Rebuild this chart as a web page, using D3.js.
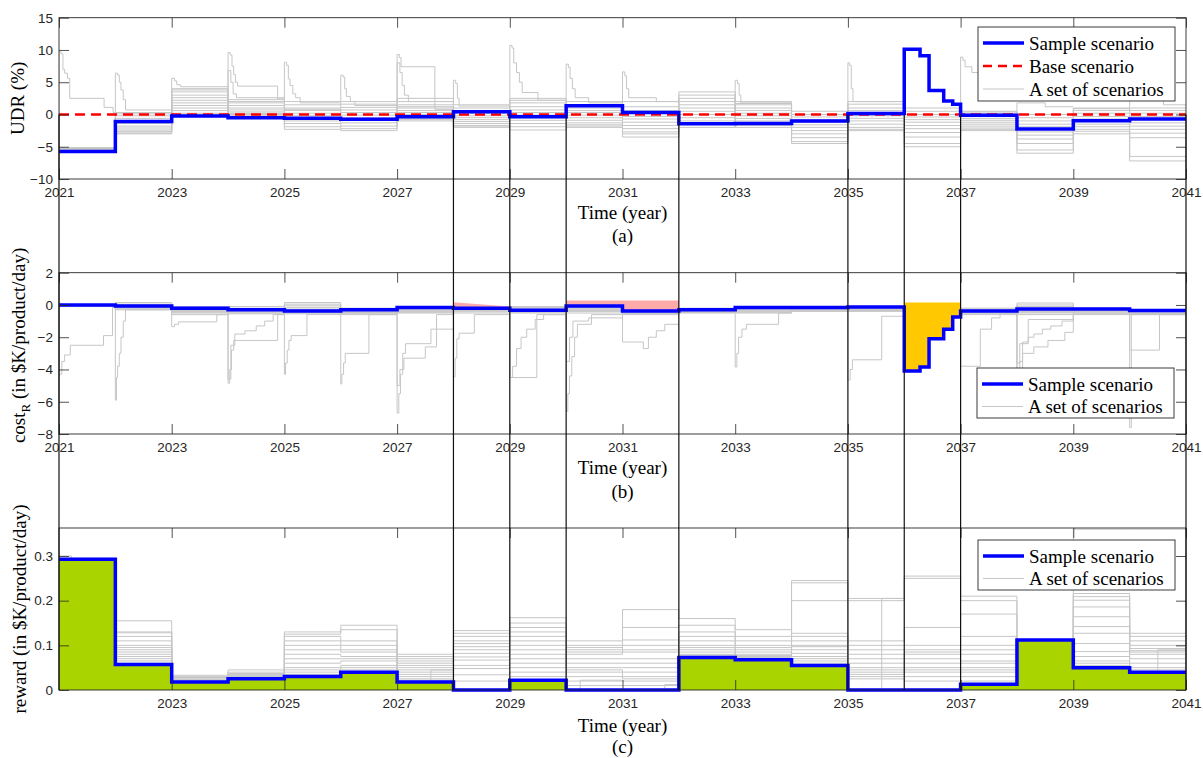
<!DOCTYPE html>
<html>
<head>
<meta charset="utf-8">
<title>UDR, cost and reward scenarios</title>
<script src="https://cdn.jsdelivr.net/npm/d3@7"></script>
<style>
  body { margin: 0; background: #fff; }
</style>
</head>
<body>
<script>
// ---- Data ----
const yearStarts = [2021, 2022, 2023, 2024, 2025, 2026, 2027, 2028, 2029, 2030,
                    2031, 2032, 2033, 2034, 2035, 2036, 2037, 2038, 2039, 2040];
const yearTicks = [2021, 2023, 2025, 2027, 2029, 2031, 2033, 2035, 2037, 2039, 2041];
const rewardYearTicks = [2023, 2025, 2027, 2029, 2031, 2033, 2035, 2037, 2039, 2041];
const udrTicks = [-10, -5, 0, 5, 10, 15];
const costTicks = [-8, -6, -4, -2, 0, 2];
const rewardTicks = [0, 0.1, 0.2, 0.3];
const markerYears = [2021, 2028, 2029, 2030, 2032, 2035, 2036, 2037, 2041];

// (a) UDR (%) - sample scenario as breakpoints (step after)
const udrSampleT = [2021, 2022, 2023, 2024, 2025, 2026, 2027, 2028, 2029, 2030, 2031, 2032, 2033,
                    2034, 2035, 2036, 2036.28, 2036.44, 2036.7, 2036.86, 2037, 2038, 2039, 2040, 2041];
const udrSampleV = [-5.75, -1.1, -0.25, -0.5, -0.6, -0.75, -0.35, 0.42, -0.35, 1.35, 0.32, -1.43, -1.4,
                    -1.0, 0.17, 10.1, 9.1, 3.7, 2.1, 1.6, -0.1, -2.26, -0.97, -0.7, -0.7];
const udrBase = 0;
// set of scenarios, one value per year
const udrSet = [
  [-5.2, 0.3, 4.0, 2.3, 2.0, 2.0, 2.5, 1.5, 2.5, 2.0, 2.0, 3.5, 2.0, 0.5, 2.0, 1.0, 0.5, 0.0, 1.0, 1.0],
  [-5.2, -0.2, 3.5, 1.8, 1.5, 1.6, 2.0, 1.0, 1.8, 1.5, 1.2, 3.0, 1.5, 0.0, 1.6, 0.5, 0.2, -0.5, 0.6, 0.6],
  [-5.2, -0.6, 3.0, 1.4, 1.0, 1.1, 1.5, 0.6, 1.2, 1.0, 0.6, 2.5, 1.0, -0.4, 1.0, 0.0, -0.3, -1.0, 0.2, 0.2],
  [-5.3, -1.4, 2.6, 1.0, 0.6, 0.7, 1.0, 0.2, 0.7, 0.6, 0.2, 2.0, 0.6, -0.8, 0.6, -0.4, -0.6, -1.5, -0.3, -0.3],
  [-5.3, -1.8, 2.2, 0.7, 0.2, 0.3, 0.6, -0.2, 0.3, 0.3, -0.3, 1.5, 0.2, -1.2, 0.2, -0.8, -0.9, -1.9, -0.7, -0.8],
  [-5.4, -2.1, 1.8, 0.4, -0.2, -0.1, 0.3, -0.5, -0.1, -0.1, -0.7, 1.0, -0.2, -1.6, -0.2, -1.2, -1.2, -2.3, -1.1, -1.3],
  [-5.4, -2.4, 1.4, 0.2, -0.6, -0.5, 0.0, -0.8, -0.5, -0.5, -1.2, 0.5, -0.6, -2.0, -0.6, -1.7, -1.5, -2.7, -1.5, -1.8],
  [-5.5, -2.7, 1.0, 0.0, -1.0, -0.9, -0.3, -1.1, -0.9, -0.9, -1.7, 0.0, -1.0, -2.5, -1.0, -2.2, -1.8, -3.2, -1.9, -2.3],
  [-5.5, -3.0, 0.6, -0.2, -1.4, -1.3, -0.6, -1.4, -1.4, -1.3, -2.2, -0.5, -1.4, -3.0, -1.5, -2.8, -2.1, -3.8, -2.3, -2.9],
  [-5.6, -2.9, 0.2, -0.3, -1.9, -1.8, -0.8, -1.7, -1.9, -1.6, -2.7, -1.0, -1.7, -3.6, -2.0, -3.5, -2.3, -4.5, -2.6, -3.6],
  [-5.6, -2.6, 0.0, 0.1, -2.3, -2.2, -1.0, -2.0, -2.4, -2.0, -3.5, -1.5, -2.0, -4.5, -2.5, -5.0, -2.5, -6.0, -3.0, -7.2],
  [-5.2, 0.1, 3.8, 2.0, 0.8, -2.5, 1.2, -1.8, 2.2, -1.8, -3.0, -2.0, 1.7, -4.2, -2.3, -4.5, 0.4, -5.5, 0.9, -6.5]
];
// short-lived UDR bursts inside the set of scenarios: [time, value] breakpoints
const udrBursts = [
  [[2021, -5.2], [2021, 9.7], [2021.04, 9.4], [2021.07, 7.0], [2021.1, 6.4], [2021.15, 5.6], [2021.19, 2.5], [2021.8, 1.1], [2021.96, 0.3], [2022, 0.3]],
  [[2022, 0.3], [2022, 6.4], [2022.04, 6.1], [2022.07, 5.0], [2022.1, 3.8], [2022.14, 2.3], [2022.18, 0.7], [2023, 0.7]],
  [[2023, 0.5], [2023, 5.6], [2023.05, 5.2], [2023.09, 4.6], [2023.16, 4.3], [2024, 4.3]],
  [[2024, 0.5], [2024, 9.6], [2024.04, 9.2], [2024.07, 7.5], [2024.1, 6.2], [2024.13, 5.0], [2024.17, 4.4], [2024.88, 2.4], [2025, 2.4]],
  [[2024, 0.5], [2024, 6.8], [2024.05, 5.0], [2024.09, 3.2], [2024.15, 2.6], [2025, 2.6]],
  [[2025, 0.5], [2025, 8.1], [2025.04, 7.6], [2025.07, 5.5], [2025.1, 4.5], [2025.15, 3.2], [2025.2, 2.6], [2025.28, 1.8], [2026, 1.8]],
  [[2026, 0.5], [2026, 6.1], [2026.04, 5.8], [2026.07, 4.0], [2026.1, 2.8], [2026.17, 2.0], [2026.25, 1.4], [2027, 1.4]],
  [[2027, 0.5], [2027, 9.3], [2027.04, 8.8], [2027.07, 7.4], [2027.67, 0.8], [2028, 0.8]],
  [[2027, 0.5], [2027, 8.0], [2027.05, 6.5], [2027.09, 4.5], [2027.13, 3.0], [2027.2, 2.0], [2028, 2.0]],
  [[2028, 0.5], [2028, 5.3], [2028.04, 4.8], [2028.07, 2.5], [2028.1, 1.3], [2029, 1.3]],
  [[2029, 0.5], [2029, 10.7], [2029.04, 10.3], [2029.07, 8.0], [2029.12, 6.5], [2029.17, 5.0], [2029.22, 3.4], [2029.5, 2.2], [2030, 2.2]],
  [[2030, 0.5], [2030, 7.8], [2030.04, 7.3], [2030.07, 5.6], [2030.11, 4.0], [2030.16, 2.6], [2030.4, 1.8], [2031, 1.8]],
  [[2031, 0.5], [2031, 6.6], [2031.04, 6.0], [2031.07, 4.0], [2031.11, 2.6], [2031.6, 2.0], [2032, 2.0]],
  [[2033, 0.5], [2033, 5.3], [2033.04, 4.8], [2033.07, 3.0], [2033.1, 1.8], [2034, 1.8]],
  [[2035, 0.5], [2035, 8.0], [2035.03, 7.6], [2035.06, 4.0], [2035.09, 2.0], [2036, 2.0]],
  [[2037, 0.5], [2037, 8.9], [2037.04, 8.4], [2037.08, 7.4], [2037.2, 6.5], [2038, 6.5]],
  [[2038, 0.3], [2038, 1.8], [2038.5, 1.2], [2039, 1.2]],
  [[2040, 0.5], [2040, 3.0], [2040.05, 2.2], [2040.6, 1.5], [2041, 1.5]]
];

// (b) cost_R (in $K/product/day)
const costSampleT = [2021, 2022, 2023, 2024, 2025, 2026, 2027, 2028, 2029, 2030, 2031, 2032, 2033,
                     2035, 2036, 2036.28, 2036.44, 2036.7, 2036.86, 2037, 2038, 2040, 2041];
const costSampleV = [0.0, -0.06, -0.2, -0.3, -0.37, -0.3, -0.16, -0.2, -0.33, -0.06, -0.37, -0.29, -0.16,
                     -0.12, -4.1, -3.85, -2.1, -1.5, -0.75, -0.37, -0.25, -0.35, -0.35];
const costSet = [
  [0.0, 0.15, -0.1, -0.1, 0.15, -0.2, -0.1, -0.1, -0.1, 0.0, -0.2, -0.2, -0.1, -0.1, -0.1, -0.2, -0.2, 0.12, -0.2, -0.3],
  [0.0, 0.05, -0.2, -0.2, 0.05, -0.25, -0.15, -0.15, -0.15, -0.08, -0.25, -0.25, -0.15, -0.15, -0.15, -0.25, -0.25, 0.0, -0.25, -0.35],
  [-0.02, -0.02, -0.25, -0.25, -0.05, -0.3, -0.2, -0.2, -0.2, -0.15, -0.3, -0.3, -0.2, -0.2, -0.2, -0.3, -0.3, -0.1, -0.3, -0.4],
  [-0.03, -0.08, -0.3, -0.3, -0.15, -0.35, -0.25, -0.25, -0.25, -0.2, -0.35, -0.33, -0.25, -0.23, -0.23, -0.35, -0.35, -0.2, -0.35, -0.42],
  [-0.05, -0.12, -0.35, -0.35, -0.25, -0.4, -0.3, -0.3, -0.3, -0.25, -0.4, -0.37, -0.3, -0.27, -0.27, -0.4, -0.4, -0.3, -0.4, -0.45],
  [-0.06, -0.16, -0.4, -0.4, -0.3, -0.43, -0.33, -0.33, -0.33, -0.3, -0.45, -0.4, -0.33, -0.3, -0.3, -0.45, -0.45, -0.35, -0.45, -0.5],
  [-0.07, -0.2, -0.45, -0.45, -0.35, -0.47, -0.37, -0.37, -0.37, -0.35, -0.5, -0.43, -0.37, -0.33, -0.33, -0.5, -0.5, -0.4, -0.5, -0.53],
  [-0.08, -0.24, -0.5, -0.5, -0.45, -0.52, -0.42, -0.42, -0.42, -0.4, -0.55, -0.47, -0.42, -0.36, -0.36, -0.55, -0.55, -0.5, -0.55, -0.56],
  [-0.1, -0.3, -0.6, -0.55, -0.55, -0.6, -0.5, -0.5, -0.5, -0.5, -0.6, -0.5, -0.5, -0.4, -0.4, -0.6, -0.6, -0.6, -0.6, -0.6],
  [-0.04, -0.1, -0.25, -0.22, -0.5, -0.28, -0.45, -0.12, -0.45, -0.12, -0.52, -0.22, -0.45, -0.12, -0.35, -0.5, -0.3, -0.45, -0.28, -0.58]
];
const costBursts = [
  [[2021, 0], [2021, -4.3], [2021.05, -3.5], [2021.1, -3.1], [2021.2, -2.5], [2021.79, -1.9], [2021.95, -0.1], [2022, -0.1]],
  [[2022, 0], [2022, -5.9], [2022.02, -4.5], [2022.04, -3.8], [2022.07, -3.0], [2022.1, -2.0], [2022.14, -1.0], [2022.18, -0.3], [2023, -0.3]],
  [[2023, -0.3], [2023, -1.35], [2023.05, -1.2], [2023.12, -1.05], [2023.8, -0.6], [2024, -0.6]],
  [[2024, -0.3], [2024, -4.85], [2024.03, -4.0], [2024.06, -2.8], [2024.1, -2.2], [2024.88, -0.6], [2025, -0.6]],
  [[2024, -0.3], [2024, -4.6], [2024.05, -2.5], [2024.12, -1.8], [2024.3, -1.6], [2024.5, -1.3], [2024.65, -1.0], [2024.8, -0.6], [2025, -0.6]],
  [[2025, -0.3], [2025, -4.3], [2025.02, -3.6], [2025.05, -2.8], [2025.08, -2.2], [2025.12, -1.9], [2025.4, -0.6], [2026, -0.6]],
  [[2026, -0.3], [2026, -4.9], [2026.02, -4.3], [2026.05, -3.6], [2026.08, -3.0], [2026.5, -0.6], [2027, -0.6]],
  [[2027, -0.3], [2027, -6.7], [2027.03, -5.5], [2027.06, -4.3], [2027.1, -3.0], [2027.15, -2.4], [2027.6, -1.5], [2028, -1.5]],
  [[2027, -0.3], [2027, -5.0], [2027.05, -4.0], [2027.12, -3.3], [2027.5, -2.6], [2027.7, -0.6], [2028, -0.6]],
  [[2028, -0.3], [2028, -4.45], [2028.03, -3.3], [2028.06, -2.1], [2028.1, -1.75], [2028.37, -0.6], [2029, -0.6]],
  [[2029, -0.3], [2029, -4.5], [2029.05, -3.8], [2029.12, -2.7], [2029.2, -2.0], [2029.3, -1.5], [2029.45, -0.9], [2029.6, -0.6], [2030, -0.6]],
  [[2029, -0.3], [2029, -4.5], [2029.48, -0.6], [2030, -0.6]],
  [[2030, -0.3], [2030, -6.6], [2030.03, -5.5], [2030.06, -4.4], [2030.1, -3.2], [2030.15, -2.0], [2030.2, -1.2], [2030.45, -0.6], [2031, -0.6]],
  [[2030, -0.3], [2030, -3.5], [2030.06, -2.0], [2030.12, -1.0], [2030.4, -0.8], [2031, -0.8]],
  [[2031, -0.3], [2031, -2.3], [2031.37, -2.7], [2031.46, -2.0], [2031.6, -1.6], [2031.75, -1.2], [2032, -1.2]],
  [[2033, -0.3], [2033, -3.85], [2033.03, -3.0], [2033.06, -2.0], [2033.12, -1.5], [2033.2, -1.2], [2033.77, -0.5], [2034, -0.5]],
  [[2035, -0.3], [2035, -4.65], [2035.04, -4.0], [2035.08, -3.4], [2035.6, -0.7], [2036, -0.7]],
  [[2037, -0.3], [2037, -3.8], [2037.35, -1.5], [2037.55, -0.8], [2037.7, -0.5], [2038, -0.5]],
  [[2038, -0.3], [2038, -4.2], [2038.05, -3.5], [2038.1, -2.3], [2038.2, -2.0], [2038.3, -1.8], [2038.45, -1.5], [2038.6, -1.3], [2038.8, -1.0], [2039, -0.6]],
  [[2038, -0.3], [2038, -4.0], [2038.1, -3.0], [2038.3, -2.6], [2038.55, -2.2], [2038.85, -1.7], [2039, -0.6]],
  [[2038, -0.3], [2038, -3.6], [2038.05, -2.4], [2038.2, -0.9], [2039, -0.6]],
  [[2040, -0.3], [2040, -7.6], [2040.03, -0.6], [2041, -0.6]],
  [[2040, -0.3], [2040, -2.8], [2040.53, -0.6], [2041, -0.6]]
];
// cost windows highlighted: [from, to, cap at start, cap at end]
const costPenaltyWindows = [[2028, 2029, 0.17, -0.1], [2030, 2032, 0.27, 0.27]];
const costShockWindows = [[2036, 2037, 0.15, 0.15]];

// (c) reward (in $K/product/day)
const rewardSampleT = [2021, 2022, 2023, 2024, 2025, 2026, 2027, 2028, 2029, 2030, 2032, 2033, 2034,
                       2035, 2037, 2038, 2039, 2040, 2041];
const rewardSampleV = [0.293, 0.057, 0.018, 0.025, 0.03, 0.04, 0.018, 0, 0.022, 0, 0.073, 0.068, 0.055,
                       0, 0.013, 0.112, 0.05, 0.04, 0.04];
const rewardSet = [
  [0.295, 0.155, 0.033, 0.045, 0.13, 0.145, 0.08, 0.133, 0.162, 0.11, 0.18, 0.16, 0.135, 0.245, 0.205, 0.255, 0.21, 0.11, 0.36, 0.36],
  [0.293, 0.13, 0.03, 0.04, 0.125, 0.135, 0.075, 0.127, 0.15, 0.1, 0.14, 0.145, 0.12, 0.24, 0.2, 0.25, 0.2, 0.105, 0.216, 0.127],
  [0.292, 0.128, 0.028, 0.037, 0.12, 0.11, 0.07, 0.12, 0.14, 0.095, 0.112, 0.13, 0.11, 0.2, 0.11, 0.14, 0.17, 0.1, 0.209, 0.12],
  [0.291, 0.12, 0.025, 0.035, 0.11, 0.1, 0.065, 0.11, 0.13, 0.09, 0.1, 0.12, 0.1, 0.127, 0.1, 0.1, 0.12, 0.095, 0.201, 0.11],
  [0.29, 0.11, 0.024, 0.033, 0.1, 0.09, 0.06, 0.104, 0.12, 0.085, 0.09, 0.11, 0.095, 0.12, 0.09, 0.09, 0.1, 0.09, 0.186, 0.1],
  [0.29, 0.1, 0.022, 0.031, 0.09, 0.085, 0.055, 0.097, 0.11, 0.08, 0.085, 0.1, 0.09, 0.11, 0.08, 0.085, 0.09, 0.085, 0.164, 0.093],
  [0.29, 0.095, 0.021, 0.03, 0.08, 0.075, 0.05, 0.09, 0.1, 0.07, 0.07, 0.095, 0.085, 0.1, 0.07, 0.08, 0.08, 0.08, 0.142, 0.088],
  [0.289, 0.09, 0.02, 0.029, 0.07, 0.07, 0.045, 0.082, 0.09, 0.06, 0.06, 0.09, 0.08, 0.097, 0.06, 0.07, 0.065, 0.075, 0.127, 0.085],
  [0.289, 0.085, 0.02, 0.028, 0.06, 0.065, 0.04, 0.074, 0.08, 0.05, 0.05, 0.085, 0.077, 0.09, 0.05, 0.06, 0.06, 0.07, 0.104, 0.08],
  [0.288, 0.08, 0.019, 0.027, 0.05, 0.055, 0.035, 0.067, 0.07, 0.045, 0.04, 0.08, 0.075, 0.082, 0.045, 0.05, 0.05, 0.065, 0.086, 0.07],
  [0.288, 0.075, 0.019, 0.026, 0.045, 0.05, 0.03, 0.055, 0.06, 0.04, 0.03, 0.078, 0.073, 0.075, 0.04, 0.045, 0.045, 0.06, 0.075, 0.06],
  [0.287, 0.07, 0.018, 0.025, 0.04, 0.045, 0.025, 0.048, 0.05, 0.03, 0.025, 0.076, 0.071, 0.07, 0.035, 0.04, 0.04, 0.055, 0.065, 0.05],
  [0.287, 0.065, 0.018, 0.025, 0.035, 0.042, 0.022, 0.034, 0.04, 0.02, 0.02, 0.075, 0.07, 0.065, 0.03, 0.03, 0.03, 0.05, 0.06, 0.045],
  [0.286, 0.06, 0.017, 0.024, 0.032, 0.04, 0.02, 0.02, 0.03, 0.01, 0.01, 0.074, 0.069, 0.06, 0.025, 0.02, 0.02, 0.045, 0.055, 0.04]
];
const rewardBursts = [
  [[2021, 0.30], [2021.22, 0.30], [2021.22, 0.293]],
  [[2027.6, 0.02], [2027.6, 0.045], [2028, 0.045]],
  [[2030.25, 0], [2030.25, 0.022], [2031, 0.022]],
  [[2031.75, 0], [2031.75, 0.012], [2032, 0.012]],
  [[2035.6, 0], [2035.6, 0.205], [2036, 0.205]],
  [[2040.5, 0.04], [2040.5, 0.09], [2041, 0.09]]
];

// ---- Styles ----
const W = 1203, H = 758;
const axisColor = '#262626';
const greyColor = '#c6c6c6';
const blueColor = '#0000ff';
const redColor = '#ff0000';
const pinkColor = '#ffaaaa';
const orangeColor = '#ffc800';
const greenColor = '#aad400';
const serif = '"Liberation Serif", "Times New Roman", serif';
const sans = '"Liberation Sans", Arial, sans-serif';

const svg = d3.select('body').append('svg')
    .attr('width', W).attr('height', H)
    .style('background', '#fff');

const x = d3.scaleLinear().domain([2021, 2041]).range([59, 1186]);
const yA = d3.scaleLinear().domain([-10, 15]).range([179, 17.7]);
const yB = d3.scaleLinear().domain([-8, 2]).range([434, 272.7]);
const yC = d3.scaleLinear().domain([0, 0.3627]).range([690, 528]);

// helpers
const pairs = (T, V) => T.map((t, i) => [t, V[i]]);
const yearly = vals => vals.map((v, i) => [yearStarts[i], v]).concat([[2041, vals[vals.length - 1]]]);

function stepLine(y) {
    return d3.line().curve(d3.curveStepAfter).x(d => x(d[0])).y(d => y(d[1]));
}

// value of a step-after series at time t
function stepValue(T, V, t) {
    let v = V[0];
    for (let i = 0; i < T.length; i++) if (T[i] <= t) v = V[i];
    return v;
}

// polygon between a straight cap and the sample step over [t0, t1]
function windowPolygon(T, V, w) {
    const [t0, t1, c0, c1] = w;
    const bottom = [[t0, stepValue(T, V, t0)]];
    for (let i = 0; i < T.length; i++) {
        if (T[i] > t0 && T[i] < t1) {
            bottom.push([T[i], bottom[bottom.length - 1][1]]);
            bottom.push([T[i], V[i]]);
        }
    }
    bottom.push([t1, bottom[bottom.length - 1][1]]);
    return [[t0, c0], [t1, c1]].concat(bottom.reverse());
}

function addClip(id, y) {
    const [b, t] = y.range();
    svg.append('clipPath').attr('id', id)
        .append('rect').attr('x', x(2021)).attr('y', t).attr('width', x(2041) - x(2021)).attr('height', b - t);
}

function drawAxes(y, yTicks, xTicks) {
    const [b, t] = y.range();
    const g = svg.append('g');
    g.append('g').attr('transform', `translate(0,${b})`)
        .call(d3.axisBottom(x).tickValues(xTicks).tickFormat(d3.format('d'))
            .tickSizeInner(-10).tickSizeOuter(0).tickPadding(8));
    g.append('g').attr('transform', `translate(0,${t})`)
        .call(d3.axisTop(x).tickValues(xTicks).tickFormat('').tickSizeInner(-10).tickSizeOuter(0));
    g.append('g').attr('transform', `translate(${x(2021)},0)`)
        .call(d3.axisLeft(y).tickValues(yTicks).tickFormat(d3.format('~g'))
            .tickSizeInner(-10).tickSizeOuter(0).tickPadding(6));
    g.append('g').attr('transform', `translate(${x(2041)},0)`)
        .call(d3.axisRight(y).tickValues(yTicks).tickFormat('').tickSizeInner(-10).tickSizeOuter(0));
    g.selectAll('.domain').remove();
    g.selectAll('.tick line').attr('stroke', axisColor).attr('stroke-width', 0.8);
    g.selectAll('text').attr('font-family', sans).attr('font-size', 13.5).attr('fill', axisColor);
    g.append('rect')
        .attr('x', x(2021)).attr('y', t).attr('width', x(2041) - x(2021)).attr('height', b - t)
        .attr('fill', 'none').attr('stroke', axisColor).attr('stroke-width', 0.9);
}

function drawGrey(g, y, set, bursts) {
    const line = stepLine(y);
    g.selectAll(null).data(set).enter().append('path')
        .attr('d', d => line(yearly(d)))
        .attr('fill', 'none').attr('stroke', greyColor).attr('stroke-width', 1);
    g.selectAll(null).data(bursts).enter().append('path')
        .attr('d', d => line(d))
        .attr('fill', 'none').attr('stroke', greyColor).attr('stroke-width', 1);
}

function drawLegend(x0, y0, w, h, rows) {
    const g = svg.append('g');
    g.append('rect').attr('x', x0).attr('y', y0).attr('width', w).attr('height', h)
        .attr('fill', '#fff').attr('stroke', axisColor).attr('stroke-width', 0.9);
    const rowH = rows.length === 3 ? 23 : 22.5;
    rows.forEach((r, i) => {
        const cy = y0 + 16 + i * rowH;
        g.append('line').attr('x1', x0 + 5).attr('x2', x0 + 46).attr('y1', cy).attr('y2', cy)
            .attr('stroke', r.color).attr('stroke-width', r.width)
            .attr('stroke-dasharray', r.dash || null);
        g.append('text').attr('x', x0 + 51).attr('y', cy + 6.5)
            .attr('font-family', serif).attr('font-size', 19).attr('fill', '#000')
            .text(r.label);
    });
}

function caption(cx, yBase, txt) {
    svg.append('text').attr('x', cx).attr('y', yBase).attr('text-anchor', 'middle')
        .attr('font-family', serif).attr('font-size', 19).attr('fill', '#000').text(txt);
}

const midX = (x(2021) + x(2041)) / 2;

// ---- Panel (a) UDR ----
addClip('clipA', yA);
const gA = svg.append('g').attr('clip-path', 'url(#clipA)');
drawGrey(gA, yA, udrSet, udrBursts);
gA.append('line')
    .attr('x1', x(2021)).attr('x2', x(2041)).attr('y1', yA(udrBase)).attr('y2', yA(udrBase))
    .attr('stroke', redColor).attr('stroke-width', 2.5).attr('stroke-dasharray', '10,6');
gA.append('path').attr('d', stepLine(yA)(pairs(udrSampleT, udrSampleV)))
    .attr('fill', 'none').attr('stroke', blueColor).attr('stroke-width', 3.5);
drawAxes(yA, udrTicks, yearTicks);
caption(midX, 219, 'Time (year)');
caption(midX, 242, '(a)');
svg.append('text').attr('transform', `translate(24,${(yA(15) + yA(-10)) / 2}) rotate(-90)`)
    .attr('text-anchor', 'middle').attr('font-family', serif).attr('font-size', 19).attr('fill', '#000')
    .text('UDR (%)');

// ---- Panel (b) cost ----
addClip('clipB', yB);
const gB = svg.append('g').attr('clip-path', 'url(#clipB)');
drawGrey(gB, yB, costSet, costBursts);
const polyB = d3.line().x(d => x(d[0])).y(d => yB(d[1]));
costPenaltyWindows.forEach(w => {
    gB.append('path').attr('d', polyB(windowPolygon(costSampleT, costSampleV, w)) + 'Z')
        .attr('fill', pinkColor).attr('stroke', 'none');
});
costShockWindows.forEach(w => {
    gB.append('path').attr('d', polyB(windowPolygon(costSampleT, costSampleV, w)) + 'Z')
        .attr('fill', orangeColor).attr('stroke', 'none');
});
gB.append('path').attr('d', stepLine(yB)(pairs(costSampleT, costSampleV)))
    .attr('fill', 'none').attr('stroke', blueColor).attr('stroke-width', 3.5);
drawAxes(yB, costTicks, yearTicks);
caption(midX, 474, 'Time (year)');
caption(midX, 498, '(b)');
const costLabel = svg.append('text')
    .attr('transform', `translate(25,${(yB(2) + yB(-8)) / 2 - 8}) rotate(-90)`)
    .attr('text-anchor', 'middle').attr('font-family', serif).attr('font-size', 19).attr('fill', '#000');
costLabel.append('tspan').text('cost');
costLabel.append('tspan').attr('font-size', 13).attr('dy', 5).text('R');
costLabel.append('tspan').attr('dy', -5).text(' (in $K/product/day)');

// ---- Panel (c) reward ----
addClip('clipC', yC);
const gC = svg.append('g').attr('clip-path', 'url(#clipC)');
drawGrey(gC, yC, rewardSet, rewardBursts);
gC.append('path')
    .attr('d', d3.area().curve(d3.curveStepAfter).x(d => x(d[0])).y0(yC(0)).y1(d => yC(d[1]))(pairs(rewardSampleT, rewardSampleV)))
    .attr('fill', greenColor).attr('stroke', 'none');
svg.append('path').attr('d', stepLine(yC)(pairs(rewardSampleT, rewardSampleV)))
    .attr('fill', 'none').attr('stroke', blueColor).attr('stroke-width', 3.5);
drawAxes(yC, rewardTicks, rewardYearTicks);
caption(midX, 732, 'Time (year)');
caption(midX, 753, '(c)');
svg.append('text').attr('transform', `translate(26,${(yC(0) + yC(0.3627)) / 2}) rotate(-90)`)
    .attr('text-anchor', 'middle').attr('font-family', serif).attr('font-size', 19).attr('fill', '#000')
    .text('reward (in $K/product/day)');

// ---- Vertical marker lines across the panels ----
svg.selectAll(null).data(markerYears).enter().append('line')
    .attr('x1', d => x(d)).attr('x2', d => x(d))
    .attr('y1', yA(0)).attr('y2', yC(0))
    .attr('stroke', '#111').attr('stroke-width', 1.2);

// ---- Legends ----
drawLegend(978, 27, 197, 74, [
    {label: 'Sample scenario', color: blueColor, width: 3.5},
    {label: 'Base scenario', color: redColor, width: 2.5, dash: '9,6'},
    {label: 'A set of scenarios', color: greyColor, width: 1}
]);
drawLegend(977, 368, 197, 50, [
    {label: 'Sample scenario', color: blueColor, width: 3.5},
    {label: 'A set of scenarios', color: greyColor, width: 1}
]);
drawLegend(978, 540, 197, 50, [
    {label: 'Sample scenario', color: blueColor, width: 3.5},
    {label: 'A set of scenarios', color: greyColor, width: 1}
]);
</script>
</body>
</html>
